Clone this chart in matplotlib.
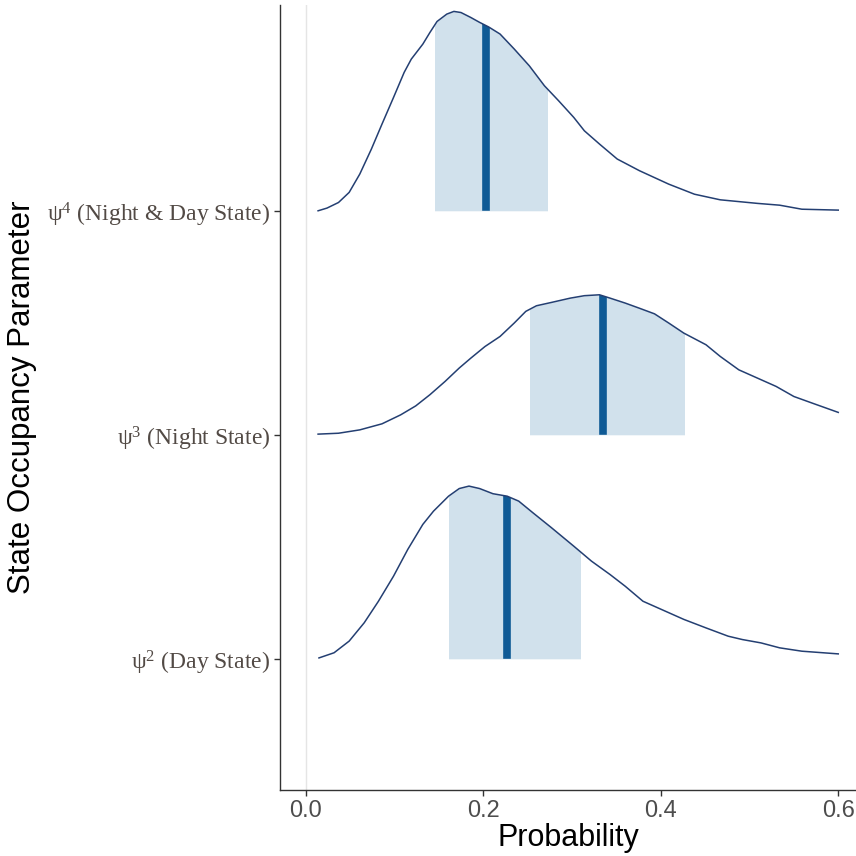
import numpy as np
import matplotlib.pyplot as plt
from matplotlib.patches import Rectangle, Polygon

plt.rcParams['mathtext.fontset'] = 'custom'
plt.rcParams['mathtext.rm'] = 'Liberation Serif'
plt.rcParams['mathtext.it'] = 'Liberation Serif:italic'

# Parametros (de abajo hacia arriba)
etiquetas = [r'$\mathrm{ψ}^{2}$ (Day State)',
             r'$\mathrm{ψ}^{3}$ (Night State)',
             r'$\mathrm{ψ}^{4}$ (Night & Day State)']

# Densidades (x = probabilidad, h = altura relativa a la fila)
x_psi2 = [0.015, 0.032, 0.049, 0.066, 0.082, 0.099, 0.115, 0.132, 0.144, 0.161,
          0.173, 0.184, 0.196, 0.211, 0.227, 0.240, 0.256, 0.277, 0.302, 0.322,
          0.343, 0.360, 0.380, 0.405, 0.426, 0.451, 0.476, 0.492, 0.513, 0.534,
          0.559, 0.600]
h_psi2 = [0.004, 0.027, 0.079, 0.161, 0.257, 0.369, 0.488, 0.600, 0.659, 0.726,
          0.760, 0.771, 0.760, 0.737, 0.726, 0.704, 0.652, 0.585, 0.503, 0.436,
          0.376, 0.324, 0.257, 0.213, 0.176, 0.138, 0.101, 0.086, 0.071, 0.049,
          0.034, 0.022]

x_psi3 = [0.014, 0.037, 0.061, 0.086, 0.107, 0.124, 0.140, 0.157, 0.173, 0.186,
          0.202, 0.219, 0.235, 0.248, 0.260, 0.277, 0.298, 0.314, 0.331, 0.343,
          0.360, 0.376, 0.393, 0.409, 0.426, 0.451, 0.467, 0.488, 0.509, 0.530,
          0.550, 0.571, 0.600]
h_psi3 = [0.003, 0.007, 0.022, 0.049, 0.089, 0.129, 0.179, 0.238, 0.298, 0.342,
          0.394, 0.439, 0.499, 0.551, 0.576, 0.591, 0.610, 0.621, 0.625, 0.610,
          0.588, 0.565, 0.540, 0.499, 0.454, 0.402, 0.350, 0.290, 0.253, 0.216,
          0.171, 0.141, 0.100]

x_psi4 = [0.014, 0.024, 0.037, 0.049, 0.061, 0.074, 0.086, 0.099, 0.111, 0.119,
          0.132, 0.140, 0.148, 0.159, 0.167, 0.175, 0.186, 0.196, 0.206, 0.219,
          0.235, 0.252, 0.269, 0.285, 0.302, 0.314, 0.331, 0.351, 0.376, 0.409,
          0.438, 0.467, 0.509, 0.534, 0.559, 0.600]
h_psi4 = [0.000, 0.012, 0.037, 0.082, 0.164, 0.275, 0.387, 0.506, 0.618, 0.677,
          0.744, 0.796, 0.845, 0.878, 0.890, 0.885, 0.863, 0.841, 0.821, 0.789,
          0.722, 0.647, 0.558, 0.491, 0.417, 0.357, 0.298, 0.231, 0.179, 0.119,
          0.074, 0.049, 0.033, 0.025, 0.007, 0.003]

# Intervalo (inferior, mediana, superior)
bajo = [0.162, 0.253, 0.146]
mediana = [0.227, 0.335, 0.203]
alto = [0.309, 0.426, 0.272]

xs = [x_psi2, x_psi3, x_psi4]
hs = [h_psi2, h_psi3, h_psi4]

fig = plt.figure(figsize=(8.56, 8.56), dpi=100)
ax = fig.add_axes([0.327, 0.077, 0.673, 0.917])

ax.axvline(0, color='#e5e5e5', lw=1.0, zorder=0)

for i in range(3):
    base = i + 1
    x = np.array(xs[i])
    h = np.array(hs[i])
    # area bajo la curva, recortada al intervalo
    area = ax.fill_between(x, base, base + h, color='#d1e1ec', lw=0, zorder=1)
    area.set_clip_path(Rectangle((bajo[i], base), alto[i] - bajo[i], 1.5,
                                 transform=ax.transData))
    # mediana recortada por la forma de la curva
    forma = Polygon(np.column_stack([np.r_[x, x[::-1]],
                                     np.r_[base + h, np.full(len(x), base)]]),
                    transform=ax.transData)
    med = ax.vlines(mediana[i], base, base + 1.2, color='#0f5a95', lw=5.5, zorder=2)
    med.set_capstyle('butt')
    med.set_clip_path(forma)
    ax.plot(x, base + h, color='#243f72', lw=1.1, zorder=3,
            solid_joinstyle='round')

ax.set_xlim(-0.029, 0.62)
ax.set_ylim(0.414, 3.918)
ax.set_xticks([0.0, 0.2, 0.4, 0.6])
ax.set_xticklabels(['0.0', '0.2', '0.4', '0.6'], fontsize=17, color='#4d4d4d',
                   family='Liberation Sans')
ax.set_yticks([1, 2, 3])
ax.set_yticklabels(etiquetas, fontsize=17, color='#524a45', family='Liberation Serif')

for lado in ['top', 'right']:
    ax.spines[lado].set_visible(False)
for lado in ['left', 'bottom']:
    ax.spines[lado].set_color('#333333')
    ax.spines[lado].set_linewidth(1.0)
ax.tick_params(length=4, color='#333333', width=1.0, pad=3)

ax.set_xlabel('Probability', fontsize=22, family='Liberation Sans', color='black')
ax.set_ylabel('State Occupancy Parameter', fontsize=22.5, family='Liberation Sans',
              color='black')
ax.yaxis.set_label_coords(-0.422, 0.5)
ax.xaxis.set_label_coords(0.5, -0.042)

fig.savefig('out.png', dpi=100)
